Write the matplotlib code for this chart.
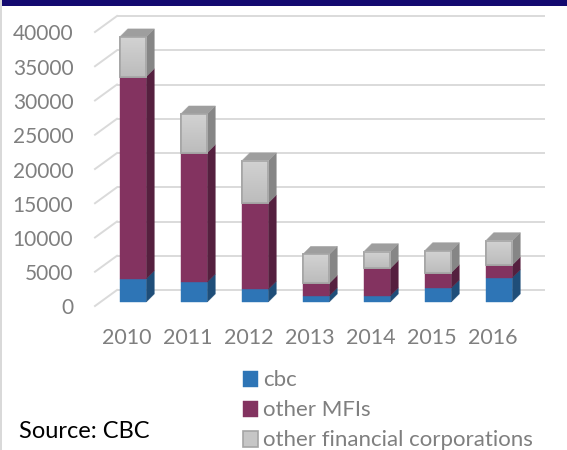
import numpy as np
import matplotlib
matplotlib.use("Agg")
import matplotlib.pyplot as plt
from matplotlib.patches import Rectangle

plt.rcParams['font.family'] = ['Lato', 'DejaVu Sans']

years = ['2010', '2011', '2012', '2013', '2014', '2015', '2016']
cbc = [3400, 2900, 1850, 900, 900, 2040, 3550]
other_mfi = [29500, 18900, 12600, 1830, 4000, 2240, 1850]
other_fin = [5800, 5650, 6150, 4220, 2440, 3210, 3550]
y_ticks = [0, 5000, 10000, 15000, 20000, 25000, 30000, 35000, 40000]

W, H = 567, 450
fig = plt.figure(figsize=(W / 100, H / 100), dpi=100, facecolor='white')
Y0, Y40 = 302, 28
X0, X1 = 102.5, 529.5
ax = fig.add_axes([X0 / W, 1 - Y0 / H, (X1 - X0) / W, (Y0 - Y40) / H])
ax.set_xlim(-0.5, 6.5)
ax.set_ylim(0, 40000)
for s in ax.spines.values():
    s.set_visible(False)
ax.patch.set_alpha(0)

px = 7 / (X1 - X0)
py = 40000 / (Y0 - Y40)
x = np.arange(len(years))
bar_w = 26.5 * px
dx, dy = 8 * px, 8 * py

# walls / gridlines
grid = '#dadada'
bx0, bx1 = -0.5 + (117 - X0) * px, -0.5 + (545 - X0) * px
fx0 = -0.5 + (95 - X0) * px
for v in y_ticks:
    yb = v + 12 * py
    yf = v - 4 * py
    ax.plot([bx0, bx1], [yb, yb], color=grid, lw=1.4, clip_on=False, zorder=1, solid_capstyle='butt')
    ax.plot([fx0, bx0], [yf, yb], color=grid, lw=1.4, clip_on=False, zorder=1)

# stacked 3-D looking bars
colors = [('#2e75b6', '#1f4e79'), ('#833360', '#55203f'), ('#c6c6c6', '#868686')]
names = ['cbc', 'other MFIs', 'other financial corporations']
series = [cbc, other_mfi, other_fin]
bottom = np.zeros(len(years))
grad = np.linspace(0, 1, 32).reshape(-1, 1)
cmap = matplotlib.colors.LinearSegmentedColormap.from_list('g', ['#d2d2d2', '#bcbcbc'])
for vals, (cf, cs), name in zip(series, colors, names):
    vals = np.array(vals, float)
    is_gray = name.startswith('other fin')
    ax.bar(x, vals, bar_w, bottom=bottom, color=cf, label=name, clip_on=False, zorder=3,
           edgecolor='#a5a5a5' if is_gray else cf, linewidth=1.2 if is_gray else 0.3)
    for i in x:
        l = i + bar_w / 2
        b, t = bottom[i], bottom[i] + vals[i]
        ax.fill([l, l + dx, l + dx, l], [b, b + dy, t + dy, t], color=cs, lw=0.3, clip_on=False, zorder=2.5)
        if is_gray:
            ax.imshow(grad, extent=(i - bar_w / 2, l, b, t), aspect='auto', cmap=cmap,
                      origin='upper', zorder=3.5, clip_on=False)
            ax.add_patch(Rectangle((i - bar_w / 2, b), bar_w, vals[i], fill=False, ec='#a5a5a5',
                                   lw=1.2, zorder=3.6, clip_on=False))
            ax.fill([i - bar_w / 2, l, l + dx, i - bar_w / 2 + dx], [t, t, t + dy, t + dy],
                    color='#9e9e9e', lw=0.3, clip_on=False, zorder=2.6)
    bottom += vals
ax.set_xlim(-0.5, 6.5)
ax.set_ylim(0, 40000)

# tick labels
ax.set_xticks(x - 6 * px, years)
ax.set_yticks(y_ticks, [str(v) for v in y_ticks])
ax.tick_params(axis='y', length=0, labelsize=15, labelcolor='#7f7f7f', pad=21)
ax.tick_params(axis='x', length=0, labelsize=15.5, labelcolor='#7f7f7f', pad=19)
for lab in ax.get_yticklabels():
    lab.set_transform(lab.get_transform() + matplotlib.transforms.ScaledTranslation(0, -4.5 / 100, fig.dpi_scale_trans))

# legend
fig.legend(loc='upper left', bbox_to_anchor=(243 / W, 1 - 370.5 / H), frameon=False, fontsize=16,
           labelcolor='#7f7f7f', handlelength=0.68, handleheight=0.72, handletextpad=0.22,
           labelspacing=0.45, borderpad=0, borderaxespad=0)

fig.text(19 / W, 1 - 431 / H, 'Source: CBC', fontsize=17, color='black', va='center', ha='left')

# slide frame
fig.add_artist(Rectangle((0, 1 - 6 / H), 1, 6 / H, transform=fig.transFigure, color='#140a70', lw=0))
fig.add_artist(Rectangle((0, 0), 1.5 / W, 1, transform=fig.transFigure, color='#d9d9d9', lw=0))

fig.savefig('out.png', dpi=100)
